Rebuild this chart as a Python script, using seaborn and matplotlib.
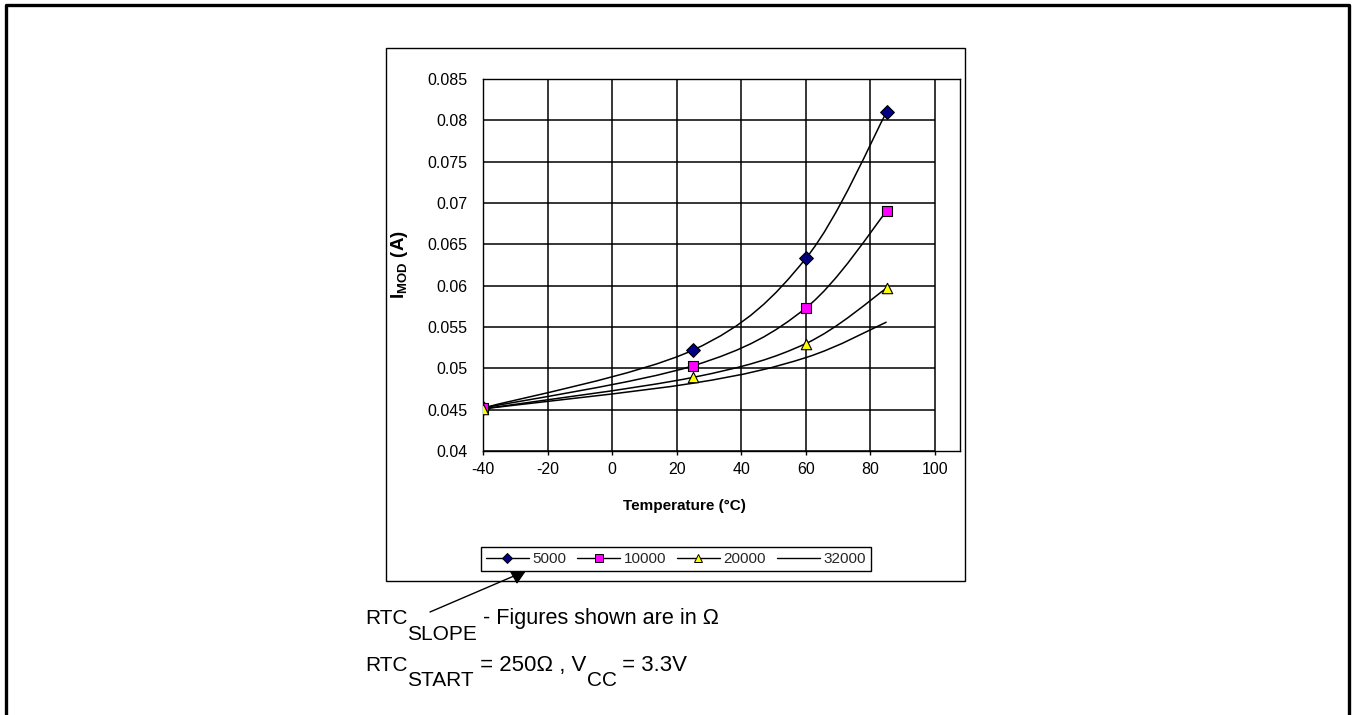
import numpy as np
import pandas as pd
import matplotlib
matplotlib.use("Agg")
import matplotlib.pyplot as plt
import seaborn as sns
from matplotlib.path import Path
from matplotlib.patches import PathPatch, Rectangle, Polygon
from matplotlib.lines import Line2D

# ------------------------------------------------------------
# Data
# ------------------------------------------------------------
temps = [-40, 25, 60, 85]
imod_5000 = [0.0452, 0.0522, 0.0633, 0.0810]
imod_10000 = [0.0452, 0.0503, 0.0573, 0.0690]
imod_20000 = [0.0451, 0.0489, 0.0530, 0.0597]
imod_32000 = [0.0451, 0.0482, 0.0513, 0.0556]
slopes = ["5000", "10000", "20000", "32000"]

x_ticks = [-40, -20, 0, 20, 40, 60, 80, 100]
y_ticks = [0.04, 0.045, 0.05, 0.055, 0.06, 0.065, 0.07, 0.075, 0.08, 0.085]
y_tick_labels = ["0.04", "0.045", "0.05", "0.055", "0.06", "0.065",
                 "0.07", "0.075", "0.08", "0.085"]

series = {
    "5000": imod_5000,
    "10000": imod_10000,
    "20000": imod_20000,
    "32000": imod_32000,
}
styles = {
    "5000": dict(marker="D", face="#000080", ms=7),
    "10000": dict(marker="s", face="#FF00FF", ms=6.5),
    "20000": dict(marker="^", face="#FFFF00", ms=7.5),
    "32000": dict(marker=None, face=None, ms=0),
}

df = pd.DataFrame(
    [(t, v, s) for s in slopes for t, v in zip(temps, series[s])],
    columns=["temp", "imod", "slope"],
)

# ------------------------------------------------------------
# Style
# ------------------------------------------------------------
sns.set_theme(style="white")
plt.rcParams["font.family"] = ["Liberation Sans", "DejaVu Sans"]
plt.rcParams["mathtext.fontset"] = "custom"
plt.rcParams["mathtext.rm"] = "Liberation Sans"
plt.rcParams["mathtext.bf"] = "Liberation Sans:bold"

W, H = 1352, 715
fig = plt.figure(figsize=(W / 100, H / 100), dpi=100)
fig.patch.set_facecolor("white")


def fx(px):
    return px / W


def fy(py):
    return 1 - py / H


ax = fig.add_axes([fx(483), fy(451), fx(960) - fx(483), fy(79) - fy(451)])


def smooth_path(xs, ys):
    # Excel-like smoothed line (Catmull-Rom as cubic Bezier)
    pts = np.column_stack([xs, ys]).astype(float)
    n = len(pts)
    verts = [pts[0]]
    codes = [Path.MOVETO]
    for i in range(n - 1):
        p0 = pts[max(i - 1, 0)]
        p1 = pts[i]
        p2 = pts[i + 1]
        p3 = pts[min(i + 2, n - 1)]
        verts += [p1 + (p2 - p0) / 6, p2 - (p3 - p1) / 6, p2]
        codes += [Path.CURVE4] * 3
    return Path(verts, codes)


# grid only up to 100, frame goes a bit further (Excel plot area)
ax.vlines(x_ticks, y_ticks[0], y_ticks[-1], color="black", lw=1.1, zorder=1)
ax.hlines(y_ticks, x_ticks[0], x_ticks[-1], color="black", lw=1.1, zorder=1)

for s in slopes:
    sub = df[df["slope"] == s]
    ax.add_patch(PathPatch(smooth_path(sub["temp"], sub["imod"]),
                           facecolor="none", edgecolor="black", lw=1.1, zorder=2))
    st = styles[s]
    if st["marker"] is not None:
        sns.scatterplot(data=sub, x="temp", y="imod", marker=st["marker"],
                        color=st["face"], edgecolor="black", linewidth=0.8,
                        s=st["ms"] ** 2, ax=ax, zorder=3, legend=False)

ax.set_xlim(-40, 107.74)
ax.set_ylim(0.04, 0.085)
ax.set_xticks(x_ticks)
ax.set_xticklabels([str(t) for t in x_ticks])
ax.set_yticks(y_ticks)
ax.set_yticklabels(y_tick_labels)
ax.tick_params(axis="x", direction="out", length=3, width=1, pad=5,
               labelsize=11.5, colors="black", bottom=True)
ax.tick_params(axis="y", length=0, pad=11, labelsize=11.5, colors="black")
for sp in ax.spines.values():
    sp.set_color("black")
    sp.set_linewidth(1)

ax.set_xlabel("Temperature (°C)", fontsize=11, fontweight="bold", color="black")
ax.xaxis.set_label_coords((684 - 483) / 477, (451 - 499) / 372)
ax.set_ylabel(r"I$_{\mathbf{MOD}}$ (A)", fontsize=13.5, fontweight="bold", color="black")
ax.yaxis.set_label_coords((410 - 483) / 477, 0.5)

# legend
handles = []
for s in slopes:
    st = styles[s]
    handles.append(Line2D([], [], color="black", lw=1,
                          marker=st["marker"] if st["marker"] else None,
                          markerfacecolor=st["face"], markeredgecolor="black",
                          markeredgewidth=0.7, markersize=st["ms"] * 0.8))
leg = fig.legend(handles, slopes, loc="center",
                 bbox_to_anchor=(fx(676), fy(559)), ncol=4, fontsize=11,
                 frameon=True, fancybox=False, edgecolor="black", framealpha=1,
                 handlelength=2.8, handletextpad=0.25, columnspacing=0.7,
                 borderpad=0.35, borderaxespad=0)
leg.get_frame().set_linewidth(1)

# chart area box and outer page border
fig.add_artist(Rectangle((fx(386), fy(581)), fx(965) - fx(386), fy(48) - fy(581),
                         transform=fig.transFigure, fill=False,
                         edgecolor="black", lw=1, zorder=0))
fig.add_artist(Line2D([fx(6), fx(6), fx(1349), fx(1349)],
                      [fy(715), fy(5), fy(5), fy(715)],
                      transform=fig.transFigure, color="black", lw=2.4))

# pointer from the note to the legend
fig.add_artist(Line2D([fx(430), fx(514)], [fy(612), fy(576)],
                      transform=fig.transFigure, color="black", lw=1))
fig.add_artist(Polygon([(fx(508), fy(567)), (fx(528), fy(567)), (fx(517), fy(583))],
                       closed=True, transform=fig.transFigure,
                       facecolor="black", edgecolor="black", lw=0.8))

# note text with large subscripts, laid out piece by piece
renderer = fig.canvas.get_renderer()


def write_line(x_px, base_px, sub_px, pieces):
    x = x_px
    for txt, is_sub, size in pieces:
        y = sub_px if is_sub else base_px
        t = fig.text(fx(x), fy(y), txt, fontsize=size, va="baseline",
                     ha="left", color="black")
        x += t.get_window_extent(renderer=renderer).width


write_line(365, 624, 640, [("RTC", False, 15), ("SLOPE", True, 15),
                           (" - Figures shown are in Ω", False, 15.6)])
write_line(365, 671, 686, [("RTC", False, 15), ("START", True, 15),
                           (" = 250Ω , V", False, 16), ("CC", True, 15),
                           (" = 3.3V", False, 16)])

fig.savefig("out.png", dpi=100, facecolor="white")
